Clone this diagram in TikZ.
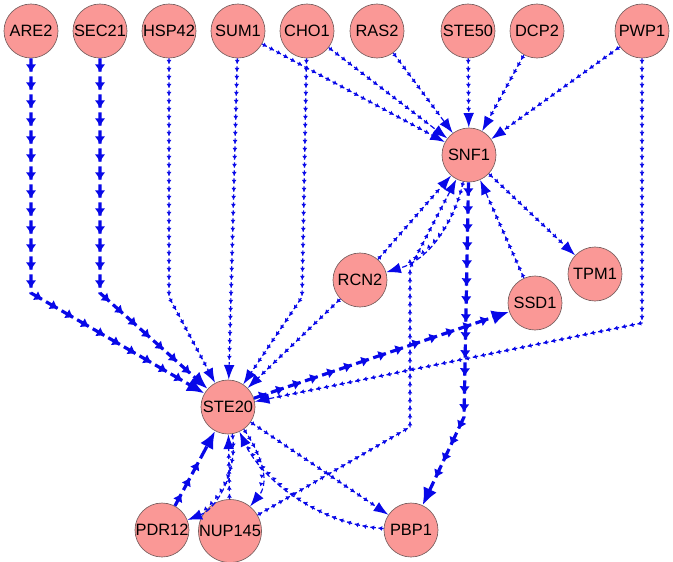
\documentclass[tikz,border=0pt]{standalone}
\usepackage{fontspec}
\setmainfont{Liberation Sans}
\usetikzlibrary{arrows.meta,decorations.markings}
\definecolor{genefill}{RGB}{250,152,150}
\definecolor{genedraw}{RGB}{120,95,95}
\definecolor{linkblue}{RGB}{8,8,232}
\begin{document}
\begin{tikzpicture}[x=0.75pt,y=-0.75pt,
 gene/.style={circle,draw=genedraw,fill=genefill,line width=0.5pt,minimum size=40.5pt,inner sep=0pt,
   font=\fontsize{12.3}{14}\selectfont},
 thinlink/.style={draw=linkblue,line width=0.9pt,dash pattern=on 4pt off 2pt,-{Latex[length=11pt,width=8pt]},
   postaction={decorate},
   decoration={markings,mark=between positions 4pt and -12pt step 6pt with {\arrow{Latex[length=2.8pt,width=3.8pt]}}}},
 thicklink/.style={draw=linkblue,line width=2.4pt,dash pattern=on 10pt off 3.5pt,-{Latex[length=13pt,width=11pt]},
   postaction={decorate},
   decoration={markings,mark=between positions 10.5pt and -15pt step 13.5pt with {\arrow{Latex[length=6pt,width=8pt]}}}}]
\useasboundingbox (0,0) rectangle (673,561);
% genes
\node[gene] (ARE2) at (31,31) {ARE2};
\node[gene] (SEC21) at (100,31) {SEC21};
\node[gene] (HSP42) at (169,31) {HSP42};
\node[gene] (SUM1) at (238,31) {SUM1};
\node[gene] (CHO1) at (307,31) {CHO1};
\node[gene] (RAS2) at (377,31) {RAS2};
\node[gene] (STE50) at (468,31) {STE50};
\node[gene] (DCP2) at (537,31) {DCP2};
\node[gene] (PWP1) at (642,31) {PWP1};
\node[gene] (SNF1) at (469,155) {SNF1};
\node[gene] (RCN2) at (360,280) {RCN2};
\node[gene] (TPM1) at (595,274) {TPM1};
\node[gene] (SSD1) at (535,303) {SSD1};
\node[gene] (STE20) at (228,407) {STE20};
\node[gene] (PDR12) at (162,530) {PDR12};
\node[gene] (NUP145) at (230,531) {NUP145};
\node[gene] (PBP1) at (411,530) {PBP1};
% bends
\coordinate (are2b) at (31,293);
\coordinate (sec21b) at (100,293);
\coordinate (hsp42b) at (169,297);
\coordinate (cho1b) at (302,297);
\coordinate (pwp1b) at (642,323);
\coordinate (nupb1) at (410,427);
\coordinate (nupb2) at (410,268);
\coordinate (snf1b) at (464,417);
% into STE20
\draw[thicklink] (ARE2) -- (are2b) -- (STE20);
\draw[thicklink] (SEC21) -- (sec21b) -- (STE20);
\draw[thinlink] (HSP42) -- (hsp42b) -- (STE20);
\draw[thinlink] (SUM1) -- (STE20);
\draw[thinlink] (CHO1) -- (cho1b) -- (STE20);
\draw[thinlink] (PWP1) -- (pwp1b) -- (STE20);
\draw[thinlink] (RCN2) -- (STE20);
\draw[thicklink] (PDR12) -- (STE20);
\draw[thinlink] (NUP145) -- (STE20);
\draw[thinlink] (PBP1) .. controls (320,525) and (262,480) .. (STE20);
% into SNF1
\draw[thinlink] (SUM1) -- (SNF1);
\draw[thinlink] (CHO1) -- (SNF1);
\draw[thinlink] (RAS2) -- (SNF1);
\draw[thinlink] (STE50) -- (SNF1);
\draw[thinlink] (DCP2) -- (SNF1);
\draw[thinlink] (PWP1) -- (SNF1);
\draw[thinlink] (RCN2) -- (SNF1);
\draw[thinlink] (SSD1) -- (SNF1);
\draw[thinlink] (NUP145) -- (nupb1) -- (nupb2) -- (SNF1);
% out of SNF1
\draw[thinlink] (SNF1) -- (TPM1);
\draw[thinlink] (SNF1) .. controls (456,215) and (434,258) .. (RCN2);
\draw[thicklink] (SNF1) -- (snf1b) -- (PBP1);
% out of STE20
\draw[thicklink] (STE20) -- (SSD1);
\draw[thinlink] (STE20) -- (PBP1);
\draw[thinlink] (STE20) .. controls (238,470) and (218,508) .. (PDR12);
\draw[thinlink] (STE20) .. controls (262,455) and (270,482) .. (NUP145);
\end{tikzpicture}
\end{document}
